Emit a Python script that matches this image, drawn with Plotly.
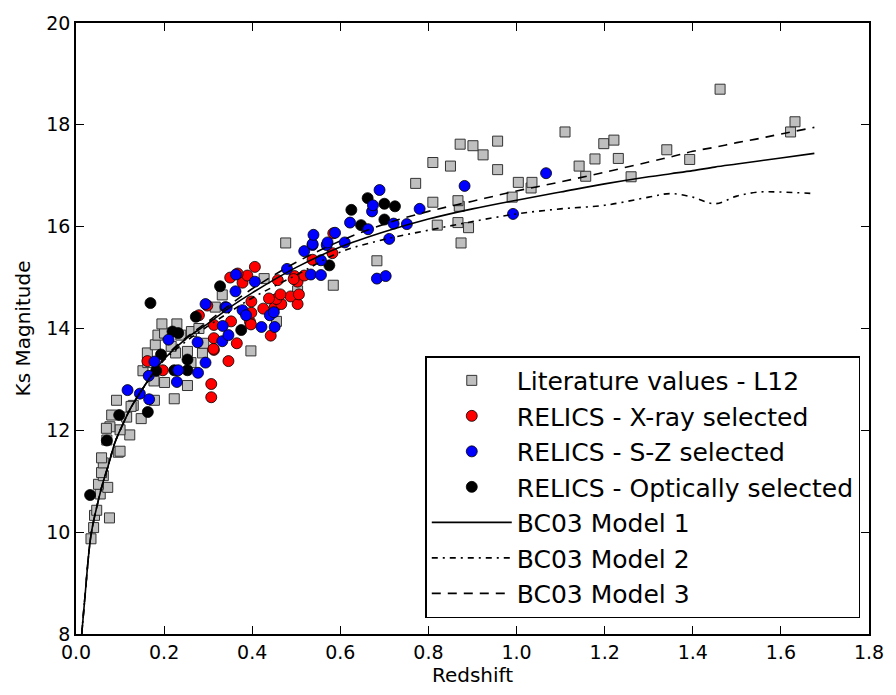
import plotly.graph_objects as go

# Literature values (L12)
lit_z = [0.034, 0.040, 0.076, 0.042, 0.047, 0.055, 0.072, 0.051, 0.062, 0.058, 0.062, 0.058,
         0.096, 0.100, 0.070, 0.122, 0.100, 0.077, 0.069, 0.148, 0.115, 0.081, 0.130, 0.125,
         0.092, 0.178, 0.223, 0.253, 0.201, 0.177, 0.152, 0.163, 0.261, 0.162, 0.287, 0.226,
         0.253, 0.397, 0.216, 0.180, 0.290, 0.186, 0.238, 0.201, 0.262, 0.279, 0.195, 0.229,
         0.455, 0.316, 0.332, 0.503, 0.584, 0.427, 0.683, 0.476, 0.874, 0.891, 0.820, 0.867,
         0.870, 0.810, 0.867, 0.990, 1.033, 0.771, 1.004, 1.035, 1.260, 1.157, 0.957, 1.142,
         0.850, 0.810, 1.393, 1.178, 1.231, 0.924, 1.341, 0.901, 0.872, 1.198, 0.957, 1.221,
         1.110, 1.622, 1.632, 1.462]
lit_k = [9.87, 10.09, 10.28, 10.33, 10.43, 10.75, 10.88, 10.94, 11.11, 11.17, 11.36, 11.46,
         11.57, 11.59, 11.81, 11.91, 12.01, 12.07, 12.04, 12.23, 12.26, 12.30, 12.49, 12.47,
         12.59, 12.59, 12.62, 12.88, 12.94, 12.97, 13.17, 13.33, 13.33, 13.52, 13.52, 13.52,
         13.55, 13.56, 13.65, 13.68, 13.71, 13.87, 13.87, 13.91, 13.94, 14.00, 14.09, 14.09,
         14.14, 14.42, 14.66, 14.74, 14.85, 14.98, 15.33, 15.68, 15.68, 15.98, 16.03, 16.08,
         16.40, 16.48, 16.51, 16.58, 16.76, 16.85, 16.87, 16.87, 16.98, 16.99, 17.12, 17.19,
         17.19, 17.26, 17.32, 17.33, 17.34, 17.41, 17.51, 17.59, 17.62, 17.63, 17.68, 17.70,
         17.86, 17.86, 18.06, 18.70]

# RELICS - X-ray selected
xray_z = [0.307, 0.307, 0.346, 0.162, 0.197, 0.313, 0.312, 0.365, 0.313, 0.442, 0.313, 0.352,
          0.395, 0.397, 0.279, 0.398, 0.425, 0.451, 0.298, 0.466, 0.503, 0.398, 0.455, 0.438,
          0.487, 0.464, 0.506, 0.378, 0.458, 0.350, 0.496, 0.503, 0.518, 0.389, 0.367, 0.406,
          0.537, 0.582, 0.584, 0.494]
xray_k = [12.65, 12.91, 13.36, 13.36, 13.18, 13.58, 13.60, 13.71, 13.81, 13.86, 14.07, 14.14,
          14.13, 14.08, 14.26, 14.31, 14.39, 14.42, 14.45, 14.48, 14.48, 14.53, 14.58, 14.59,
          14.63, 14.67, 14.67, 14.90, 14.95, 15.00, 15.03, 14.92, 15.04, 15.04, 15.08, 15.21,
          15.35, 15.48, 15.87, 14.97]

# RELICS - S-Z selected
sz_z = [0.117, 0.145, 0.166, 0.165, 0.178, 0.229, 0.232, 0.277, 0.294, 0.210, 0.276, 0.332,
        0.346, 0.333, 0.294, 0.339, 0.342, 0.378, 0.386, 0.440, 0.449, 0.421, 0.451, 0.362,
        0.406, 0.363, 0.479, 0.533, 0.556, 0.556, 0.518, 0.537, 0.569, 0.537, 0.539, 0.571,
        0.610, 0.588, 0.622, 0.663, 0.672, 0.674, 0.689, 0.711, 0.721, 0.751, 0.780, 0.882,
        0.683, 0.703, 0.992, 1.067]
sz_k = [12.79, 12.72, 12.61, 13.07, 13.35, 12.95, 13.18, 13.13, 13.33, 13.78, 13.73, 13.75,
        13.87, 14.05, 14.48, 14.42, 14.41, 14.36, 14.26, 14.26, 14.32, 14.03, 14.03, 14.73,
        14.92, 15.06, 15.17, 15.06, 15.05, 15.34, 15.52, 15.64, 15.64, 15.66, 15.84, 15.69,
        15.69, 15.88, 16.08, 15.95, 16.30, 16.42, 16.72, 15.76, 16.06, 16.05, 16.35, 16.80,
        14.98, 15.03, 16.25, 17.05]

# RELICS - Optically selected
opt_z = [0.032, 0.070, 0.098, 0.163, 0.169, 0.182, 0.223, 0.253, 0.253, 0.193, 0.219, 0.232,
         0.272, 0.327, 0.375, 0.575, 0.625, 0.647, 0.662, 0.700, 0.724, 0.700]
opt_k = [10.73, 11.80, 12.30, 12.36, 14.50, 13.17, 13.18, 13.18, 13.39, 13.49, 13.94, 13.91,
         14.23, 14.83, 13.97, 15.24, 16.33, 16.03, 16.56, 16.45, 16.40, 16.14]

# BC03 model tracks
z_model = [0.013, 0.02, 0.034, 0.05, 0.062, 0.073, 0.088, 0.1, 0.125, 0.15, 0.175, 0.2, 0.25,
           0.3, 0.35, 0.4, 0.5, 0.6, 0.7, 0.8, 0.9, 1.0, 1.1, 1.2, 1.3, 1.35, 1.4, 1.45, 1.5,
           1.55, 1.6, 1.676]
model1 = [8.0, 8.7, 9.94, 10.6, 11.0, 11.3, 11.75, 12.0, 12.45, 12.8, 13.12, 13.4, 13.8, 14.1,
          14.42, 14.7, 15.2, 15.6, 15.9, 16.15, 16.35, 16.52, 16.68, 16.84, 16.98, 17.04, 17.1,
          17.17, 17.23, 17.29, 17.35, 17.44]
model2 = [8.0, 8.7, 9.94, 10.6, 11.0, 11.3, 11.75, 12.0, 12.45, 12.8, 13.1, 13.38, 13.75, 14.05,
          14.33, 14.6, 15.05, 15.5, 15.75, 15.93, 16.1, 16.25, 16.35, 16.42, 16.58, 16.65, 16.58,
          16.45, 16.6, 16.68, 16.68, 16.65]
model3 = [8.0, 8.7, 9.94, 10.6, 11.0, 11.3, 11.75, 12.0, 12.45, 12.8, 13.12, 13.42, 13.82, 14.14,
          14.47, 14.78, 15.3, 15.72, 16.05, 16.3, 16.5, 16.7, 16.88, 17.07, 17.27, 17.37, 17.48,
          17.56, 17.65, 17.73, 17.82, 17.95]

font = "DejaVu Sans"
fig = go.Figure()

fig.add_trace(go.Scatter(x=lit_z, y=lit_k, mode="markers", name="Literature values - L12",
                         legendrank=1,
                         marker=dict(symbol="square", size=10, color="#bfbfbf",
                                     line=dict(color="#333333", width=1))))
fig.add_trace(go.Scatter(x=xray_z, y=xray_k, mode="markers", name="RELICS - X-ray selected",
                         legendrank=2,
                         marker=dict(symbol="circle", size=11, color="red",
                                     line=dict(color="black", width=0.8))))
fig.add_trace(go.Scatter(x=opt_z, y=opt_k, mode="markers", name="RELICS - Optically selected",
                         legendrank=4,
                         marker=dict(symbol="circle", size=11, color="black",
                                     line=dict(color="black", width=0.8))))
fig.add_trace(go.Scatter(x=sz_z, y=sz_k, mode="markers", name="RELICS - S-Z selected",
                         legendrank=3,
                         marker=dict(symbol="circle", size=11, color="blue",
                                     line=dict(color="black", width=0.8))))

fig.add_trace(go.Scatter(x=z_model, y=model1, mode="lines", name="BC03 Model 1", legendrank=5,
                         line=dict(color="black", width=1.6, shape="spline")))
fig.add_trace(go.Scatter(x=z_model, y=model2, mode="lines", name="BC03 Model 2", legendrank=6,
                         line=dict(color="black", width=1.6, shape="spline",
                                   dash="6px,5px,2px,5px")))
fig.add_trace(go.Scatter(x=z_model, y=model3, mode="lines", name="BC03 Model 3", legendrank=7,
                         line=dict(color="black", width=1.6, shape="spline", dash="9px,7px")))

axis_style = dict(showline=True, linecolor="black", linewidth=1.5, mirror="ticks",
                  ticks="inside", ticklen=8, tickwidth=1, tickcolor="black",
                  showgrid=False, zeroline=False,
                  tickfont=dict(family=font, size=19, color="black"))

fig.update_xaxes(range=[0, 1.8], tick0=0, dtick=0.2, tickformat=".1f",
                 title=dict(text="Redshift", font=dict(family=font, size=20, color="black"),
                            standoff=6),
                 **axis_style)
fig.update_yaxes(range=[8, 20], tick0=8, dtick=2,
                 title=dict(text="Ks Magnitude", font=dict(family=font, size=20, color="black"),
                            standoff=10),
                 **axis_style)

fig.update_layout(width=896, height=695, plot_bgcolor="white", paper_bgcolor="white",
                  margin=dict(l=76, r=19, t=14, b=59),
                  font=dict(family=font, color="black"),
                  legend=dict(x=0.989, y=0.026, xanchor="right", yanchor="bottom",
                              bgcolor="white", bordercolor="black", borderwidth=1.5,
                              font=dict(family=font, size=25, color="black"),
                              tracegroupgap=0, itemwidth=80))

fig.write_html("out.html", config={"displayModeBar": False},
               post_script="document.body.style.margin='0';document.body.style.overflow='hidden';")
